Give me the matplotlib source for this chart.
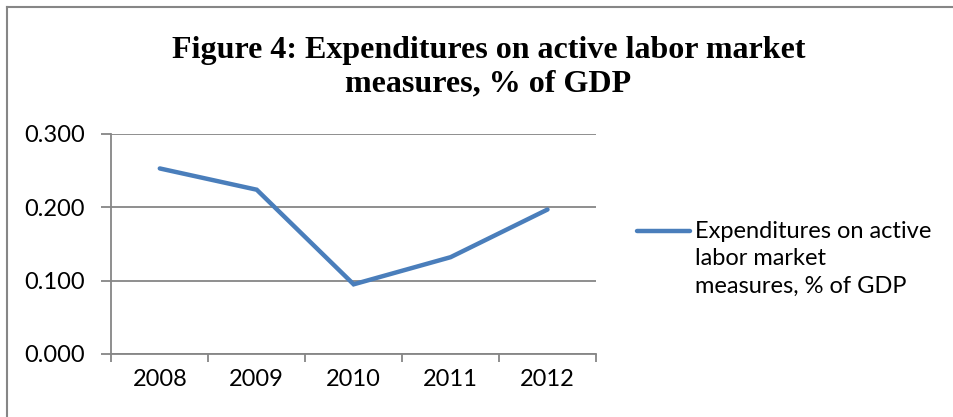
import numpy as np
import matplotlib.pyplot as plt
from matplotlib.lines import Line2D

years = ["2008", "2009", "2010", "2011", "2012"]
expenditures = [0.253, 0.224, 0.095, 0.132, 0.197]
y_ticks = [0.0, 0.1, 0.2, 0.3]
series_label = "Expenditures on active\nlabor market\nmeasures, % of GDP"
title = "Figure 4: Expenditures on active labor market\nmeasures, % of GDP"

grey = "#868686"
blue = "#4a7ebb"
label_font = ["Lato", "DejaVu Sans"]
label_size = 17

fig = plt.figure(figsize=(9.54, 4.17), dpi=100)

# chart frame: only left and top edges
fig.add_artist(Line2D([0.0078, 0.0078], [0, 0.983], transform=fig.transFigure,
                      color=grey, lw=1.5))
fig.add_artist(Line2D([0.0078, 1.0], [0.983, 0.983], transform=fig.transFigure,
                      color=grey, lw=1.5))

ax = fig.add_axes([0.1167, 0.1511, 0.508, 0.5276])

x = np.arange(len(years))
ax.plot(x, expenditures, color=blue, lw=3.2, solid_joinstyle="miter",
        solid_capstyle="round")

ax.set_xlim(-0.5, len(years) - 0.5)
ax.set_ylim(0, 0.3)

ax.set_yticks(y_ticks)
ax.set_yticklabels([f"{v:.3f}" for v in y_ticks], family=label_font, fontsize=label_size)
ax.yaxis.grid(True, color=grey, lw=1.3)
ax.set_axisbelow(True)

# category boundaries carry the tick marks, labels sit between them
ax.set_xticks(np.arange(-0.5, len(years)), minor=False)
ax.set_xticklabels([""] * (len(years) + 1))
ax.set_xticks(x, minor=True)
ax.set_xticklabels(years, minor=True, family=label_font, fontsize=label_size)
ax.tick_params(axis="x", which="major", length=6, color=grey, width=1.3)
ax.tick_params(axis="x", which="minor", length=0, pad=11)
ax.tick_params(axis="y", length=7, color=grey, width=1.3, pad=12)

for side in ["top", "right"]:
    ax.spines[side].set_visible(False)
for side in ["left", "bottom"]:
    ax.spines[side].set_color(grey)
    ax.spines[side].set_linewidth(1.3)

fig.text(0.512, 0.838, title, ha="center", va="center", family="Liberation Serif",
         fontweight="bold", fontsize=23, linespacing=1.2)

# legend drawn by hand so the text wraps on three lines
fig.add_artist(Line2D([0.668, 0.723], [0.447, 0.447], transform=fig.transFigure,
                      color=blue, lw=3.2, solid_capstyle="round"))
fig.text(0.728, 0.379, series_label, ha="left", va="center", family=label_font,
         fontsize=label_size, linespacing=1.38, transform=fig.transFigure)

fig.savefig("out.png", dpi=100)
